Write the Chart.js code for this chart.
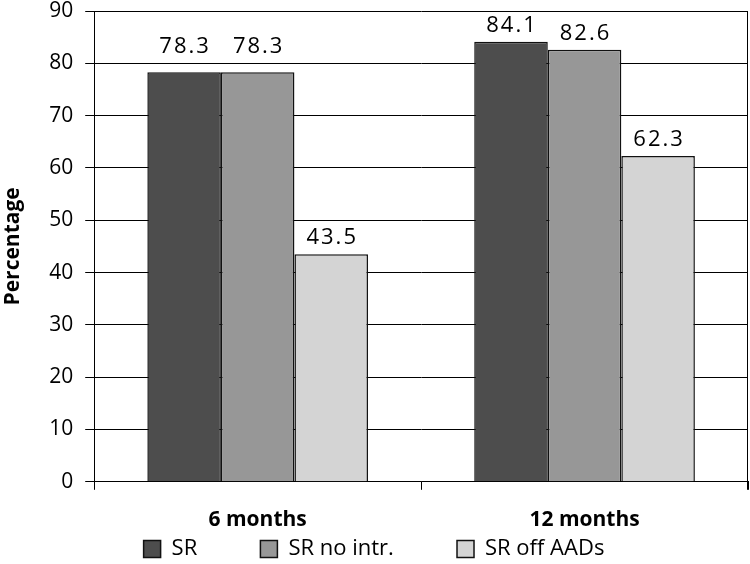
<!DOCTYPE html>
<html lang="en">
<head>
  <meta charset="UTF-8">
  <title>Sinus rhythm at follow-up</title>
  <script src="https://cdn.jsdelivr.net/npm/chart.js"></script>
  <style>
    html, body { margin: 0; padding: 0; background: #fff; }
    .chart-box { width: 750px; height: 564px; position: relative; }
  </style>
</head>
<body>
  <div class="chart-box">
    <canvas id="srChart"></canvas>
  </div>
  <script>
    // data
    const periods = ['6 months', '12 months'];
    const seriesNames = ['SR', 'SR no intr.', 'SR off AADs'];
    const srValues = [78.3, 84.1];
    const srNoIntrValues = [78.3, 82.6];
    const srOffAadValues = [43.5, 62.3];
    const yTicks = [0, 10, 20, 30, 40, 50, 60, 70, 80, 90];

    const fills = ['#4d4d4d', '#979797', '#d4d4d4'];
    const fontFamily = '"Open Sans", "Noto Sans", sans-serif';
    // legend.labels.padding is also used vertically, so the wide gaps
    // between legend entries come from trailing spaces instead
    const legendGap = '          ';

    // value labels above each bar; a label that would sit on a gridline
    // is lifted above that line, as in the original
    const barLabels = {
      id: 'barLabels',
      afterDatasetsDraw(chart) {
        const ctx = chart.ctx;
        const yScale = chart.scales.y;
        const gridYs = yTicks.map(v => yScale.getPixelForValue(v));
        ctx.save();
        ctx.font = '22px ' + fontFamily;
        ctx.letterSpacing = '2px';
        ctx.fillStyle = '#000';
        ctx.textAlign = 'center';
        ctx.textBaseline = 'alphabetic';
        chart.data.datasets.forEach((ds, i) => {
          chart.getDatasetMeta(i).data.forEach((bar, j) => {
            let base = bar.y;
            gridYs.forEach(gy => {
              if (gy < bar.y && gy > bar.y - 28) base = gy;
            });
            ctx.fillText(ds.data[j].toFixed(1), bar.x + 1, base - 10);
          });
        });
        ctx.restore();
      }
    };

    // closing line on the right side of the plot
    const rightEdge = {
      id: 'rightEdge',
      afterDraw(chart) {
        const a = chart.chartArea;
        const ctx = chart.ctx;
        ctx.save();
        ctx.strokeStyle = '#000';
        ctx.lineWidth = 1;
        ctx.beginPath();
        ctx.moveTo(a.right - 0.5, a.top);
        ctx.lineTo(a.right - 0.5, a.bottom + 8);
        ctx.stroke();
        ctx.restore();
      }
    };

    const values = [srValues, srNoIntrValues, srOffAadValues];

    new Chart(document.getElementById('srChart'), {
      type: 'bar',
      data: {
        labels: periods,
        datasets: seriesNames.map((name, i) => ({
          label: name,
          data: values[i],
          backgroundColor: fills[i],
          borderColor: '#111',
          borderWidth: 1.5,
          categoryPercentage: 0.675,
          barPercentage: 1.0
        }))
      },
      options: {
        responsive: true,
        maintainAspectRatio: false,
        animation: false,
        layout: { padding: { top: 0, right: 2, left: 0, bottom: -6 } },
        plugins: {
          tooltip: { enabled: false },
          legend: {
            position: 'bottom',
            labels: {
              boxWidth: 17,
              boxHeight: 17,
              padding: 6,
              color: '#000',
              font: { family: fontFamily, size: 22 },
              generateLabels(chart) {
                const items = Chart.defaults.plugins.legend.labels.generateLabels(chart);
                items.forEach((it, k) => {
                  if (k < items.length - 1) it.text = it.text + legendGap;
                });
                return items;
              }
            }
          }
        },
        scales: {
          x: {
            afterFit(scale) {
              // tick padding is counted twice in the height; trim the spare gap
              scale.height -= 19;
            },
            grid: {
              display: true,
              offset: true,
              drawOnChartArea: false,
              color: '#000',
              tickLength: 8
            },
            border: { color: '#000', width: 1 },
            ticks: {
              color: '#000',
              padding: 18,
              font: { family: fontFamily, size: 21, weight: 'bold' }
            }
          },
          y: {
            min: 0,
            max: 90,
            afterBuildTicks(scale) {
              scale.ticks = yTicks.map(v => ({ value: v }));
            },
            afterFit(scale) {
              scale.paddingTop = 11;
            },
            grid: { color: '#000', lineWidth: 1, tickLength: 9 },
            border: { color: '#000', width: 1 },
            ticks: {
              color: '#000',
              padding: 12,
              font: { family: fontFamily, size: 21 }
            },
            title: {
              display: true,
              text: 'Percentage',
              color: '#000',
              padding: { top: 0, bottom: 12 },
              font: { family: fontFamily, size: 21, weight: 'bold' }
            }
          }
        }
      },
      plugins: [barLabels, rightEdge]
    });
  </script>
</body>
</html>
